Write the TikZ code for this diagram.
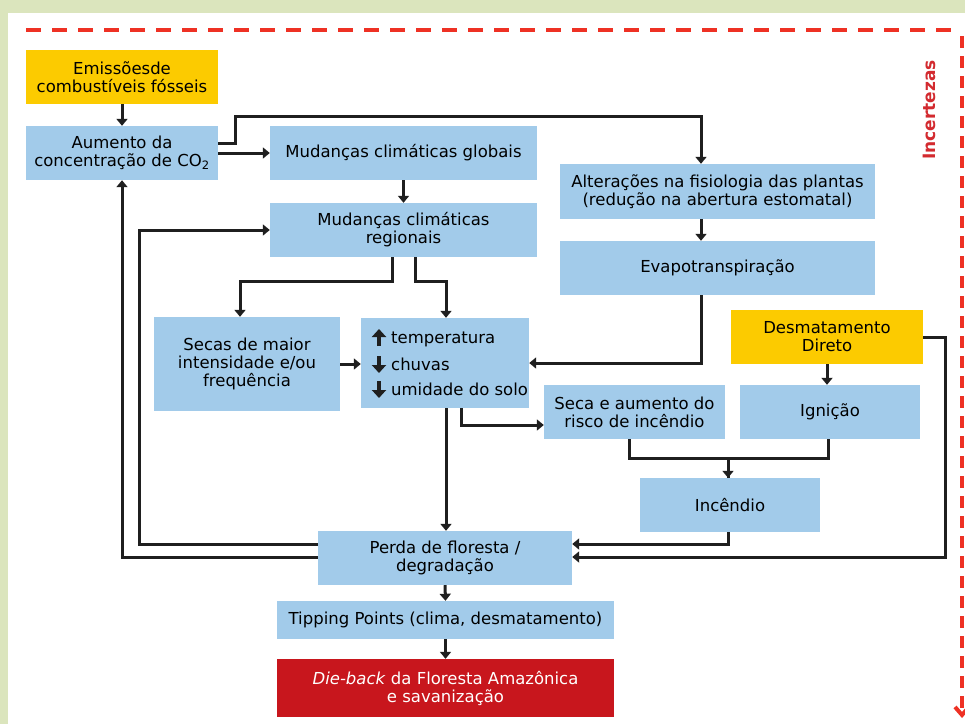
\documentclass[tikz,border=0pt]{standalone}
\usepackage{fontspec}
\setmainfont{DejaVu Sans}
\usetikzlibrary{arrows.meta}
\definecolor{bgreen}{HTML}{DBE5BD}
\definecolor{bblue}{HTML}{A2CBEA}
\definecolor{byellow}{HTML}{FCCB00}
\definecolor{bred}{HTML}{C8161D}
\definecolor{dred}{HTML}{EE3124}
\definecolor{tred}{HTML}{D32A2F}
\tikzset{
  box/.style={fill=bblue, inner sep=2pt, align=center, font=\fontsize{16.5}{18}\selectfont, text=black},
  ybox/.style={box, fill=byellow},
  rbox/.style={box, fill=bred, text=white},
  conn/.style={line width=3pt, draw=black!88},
  arr/.style={conn, -{Triangle[width=11pt,length=7pt]}},
  bigarrow/.style={line width=3.6pt, draw=black!88, -{Triangle[width=14pt,length=8pt]}},
  ln/.style={anchor=base west, inner sep=0pt, font=\fontsize{16.5}{18}\selectfont}
}
\begin{document}
\begin{tikzpicture}[x=1pt,y=-1pt]
\useasboundingbox (0,0) rectangle (965,724);
\fill[bgreen] (0,0) rectangle (965,724);
\fill[white] (8,13) rectangle (965,724);
% uncertainty frame
\draw[dred, line width=4pt, dash pattern=on 15pt off 11pt] (26,30) -- (962,30);
\draw[dred, line width=4pt, dash pattern=on 12pt off 8pt, -{Straight Barb[length=8pt,width=14pt]}] (962,36) -- (962,718);
\node[rotate=90, text=tred, font=\fontsize{17}{18}\bfseries\selectfont] (inc-label) at (929,110) {Incertezas};
% boxes
\node[ybox, minimum width=192pt, minimum height=54pt] (emis) at (122,77) {Emissõesde\\combustíveis fósseis};
\node[box, minimum width=192pt, minimum height=54pt] (aum) at (122,153) {Aumento da\\concentração de CO\textsubscript{2}};
\node[box, minimum width=267pt, minimum height=54pt] (glob) at (403.5,153) {Mudanças climáticas globais};
\node[box, minimum width=315pt, minimum height=55pt] (alt) at (717.5,191.5) {Alterações na fisiologia das plantas\\(redução na abertura estomatal)};
\node[box, minimum width=315pt, minimum height=54pt] (evap) at (717.5,268) {Evapotranspiração};
\node[box, minimum width=267pt, minimum height=54pt] (reg) at (403.5,230) {Mudanças climáticas\\regionais};
\node[box, minimum width=186pt, minimum height=94pt] (secas) at (247,364) {Secas de maior\\intensidade e/ou\\frequência};
\node[box, minimum width=168pt, minimum height=90pt] (temp) at (445,363) {};
\node[ybox, minimum width=192pt, minimum height=54pt] (desm) at (827,337) {Desmatamento\\Direto};
\node[box, minimum width=181pt, minimum height=54pt] (seca) at (634.5,412) {Seca e aumento do\\risco de incêndio};
\node[box, minimum width=180pt, minimum height=54pt] (ign) at (830,412) {Ignição};
\node[box, minimum width=180pt, minimum height=54pt] (incd) at (730,505) {Incêndio};
\node[box, minimum width=254pt, minimum height=54pt] (perda) at (445,558) {Perda de floresta /\\degradação};
\node[box, minimum width=337pt, minimum height=38pt] (tip) at (445.5,620) {Tipping Points (clima, desmatamento)};
\node[rbox, minimum width=337pt, minimum height=58pt] (die) at (445.5,688) {\textit{Die-back} da Floresta Amazônica\\e savanização};
% temperature box contents
\node[ln] (t1) at (391,343) {temperatura};
\node[ln] (t2) at (391,370) {chuvas};
\node[ln] (t3) at (391,395) {umidade do solo};
\draw[bigarrow] (379,346) -- (379,329);
\draw[bigarrow] (379,356) -- (379,373);
\draw[bigarrow] (379,381) -- (379,398);
% connectors
\draw[arr] (emis.south) -- (aum.north);
\draw[arr] (aum.east) -- (glob.west);
\draw[arr] ([yshift=10pt]aum.east) -- ++(17,0) |- ([xshift=-16.5pt,yshift=47pt]alt.north) -- ([xshift=-16.5pt]alt.north);
\draw[arr] (glob.south) -- (reg.north);
\draw[arr] ([xshift=-11.5pt]reg.south) -- ++(0,24) -| ([xshift=-7pt]secas.north);
\draw[arr] ([xshift=11.5pt]reg.south) -- ++(0,24) -| ([xshift=1pt]temp.north);
\draw[arr] (secas.east) -- (secas.east -| temp.west);
\draw[arr] ([xshift=-16.5pt]alt.south) -- ([xshift=-16.5pt]evap.north);
\draw[arr] ([xshift=-16.5pt]evap.south) |- (temp.east);
\draw[arr] ([xshift=16pt]temp.south) |- ([yshift=-13pt]seca.west);
\draw[arr] ([xshift=1pt]temp.south) -- ([xshift=1pt]perda.north);
\draw[arr] (desm.south) -- (desm.south |- ign.north);
\draw[arr] ([xshift=-5.5pt]seca.south) -- ++(0,19) -| ([xshift=-2pt]incd.north);
\draw[conn] ([xshift=-2pt]ign.south) -- ++(0,19) -| ([xshift=-2pt]incd.north);
\draw[arr] ([xshift=-2pt]incd.south) |- ([yshift=14pt]perda.east);
\draw[arr] (desm.east) -- ++(22,0) |- ([yshift=1pt]perda.east);
\draw[arr] ([yshift=1pt]perda.west) -| (aum.south);
\draw[arr] ([yshift=14pt]perda.west) -- ++(-178,0) |- (reg.west);
\draw[arr] (perda.south) -- (tip.north);
\draw[arr] (tip.south) -- (die.north);
\end{tikzpicture}
\end{document}
